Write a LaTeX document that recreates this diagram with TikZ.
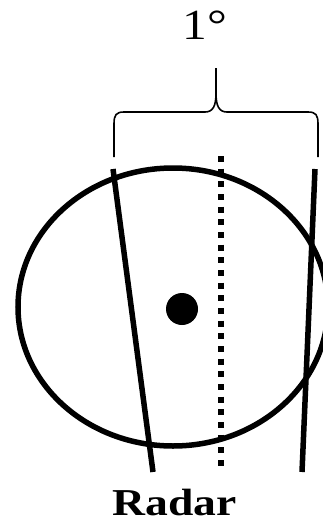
\documentclass[tikz,border=0pt]{standalone}
\usepackage{fontspec}
\setmainfont{Liberation Serif}
\begin{document}
\begin{tikzpicture}[x=1pt,y=-1pt,
  thick line/.style={line width=5.5pt},
  bracestyle/.style={line width=1.6pt},
  lbl/.style={inner sep=0pt,anchor=base}]
\useasboundingbox (0,0) rectangle (322,522);
% ellipse (radar beam cross-section)
\draw[thick line] (173,307) ellipse [x radius=155, y radius=139];
% target dot
\fill (182,309) circle [radius=16];
% tilted left line
\draw[thick line] (113,169) -- (153,472);
% right line
\draw[thick line] (315,169) -- (302,472);
% dotted centre line
\draw[line width=5.5pt, dash pattern=on 6pt off 6.67pt] (221,156) -- (221,466);
% brace
\draw[bracestyle] (114,157) -- (114,124) .. controls (114,115) and (116,112) .. (124,112)
  -- (205,112) .. controls (213,112) and (216,106) .. (216,93) -- (216,68);
\draw[bracestyle] (216,93) .. controls (216,106) and (219,112) .. (227,112)
  -- (308,112) .. controls (316,112) and (318,115) .. (318,124) -- (318,157);
% labels
\node[lbl, xscale=1.15] (deg) at (205,39) {\fontsize{43}{43}\selectfont 1°};
\node[lbl, xscale=1.2] (radar) at (174.5,515) {\fontsize{38}{38}\selectfont\bfseries Radar};
\end{tikzpicture}
\end{document}
